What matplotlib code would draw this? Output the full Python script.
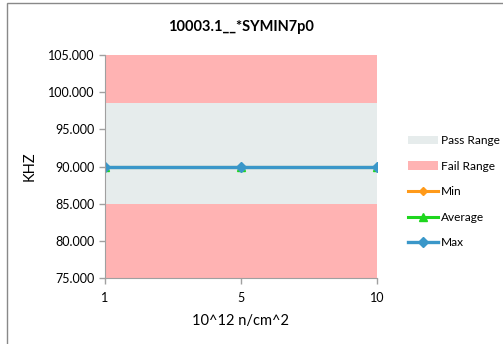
import matplotlib
matplotlib.use("Agg")
import matplotlib.pyplot as plt
from matplotlib.patches import Rectangle
import numpy as np

categories = ["1", "5", "10"]
fail_low = [85.0, 85.0, 85.0]
pass_top = [98.5, 98.5, 98.5]
axis_top = [105.0, 105.0, 105.0]
min_vals = [90.0, 90.0, 90.0]
avg_vals = [89.97, 89.97, 89.97]
max_vals = [90.0, 90.0, 90.0]
y_ticks = [75, 80, 85, 90, 95, 100, 105]

plt.rcParams['font.family'] = ['Lato', 'DejaVu Sans']

fig = plt.figure(figsize=(5.03, 3.44), dpi=100)
fig.patches.append(Rectangle((7/503, -0.1), 1.2, 1 - 3/344 + 0.1, transform=fig.transFigure,
                             fill=False, edgecolor='#898989', linewidth=1.0))
ax = fig.add_axes([105/503, 1 - 278/344, 272/503, 223/344])

x = np.arange(len(categories))
ymin = 75.0
ax.fill_between(x, ymin, fail_low, color='#FFB3B3', linewidth=0, label='_fail_low')
ax.fill_between(x, fail_low, pass_top, color='#E6ECEC', linewidth=0, label='Pass Range')
ax.fill_between(x, pass_top, axis_top, color='#FFB3B3', linewidth=0, label='Fail Range')

ax.plot(x, min_vals, color='#FF9A1A', linewidth=2.2, marker='D', markersize=4, label='Min')
ax.plot(x, avg_vals, color='#1ED61E', linewidth=2.2, marker='^', markersize=6, label='Average')
ax.plot(x, max_vals, color='#3A97C9', linewidth=2.4, marker='D', markersize=5, label='Max')

ax.set_xlim(0, 2)
ax.set_ylim(75, 105)
ax.set_xticks(x)
ax.set_xticklabels(categories)
ax.set_yticks(y_ticks)
ax.set_yticklabels([f"{v:.3f}" for v in y_ticks])
for s in ['top', 'right']:
    ax.spines[s].set_visible(False)
for s in ['left', 'bottom']:
    ax.spines[s].set_color('#A0A0A0')
ax.tick_params(axis='both', colors='#A0A0A0', labelcolor='#000000', labelsize=9, length=4, width=1)
ax.tick_params(axis='x', pad=6)

ax.set_title("10003.1__*SYMIN7p0", fontsize=10.5, fontweight='bold', pad=17)
ax.set_xlabel("10^12 n/cm^2", fontsize=10.5, labelpad=7)
ax.set_ylabel("KHZ", fontsize=10.5, labelpad=8)

handles, labels = ax.get_legend_handles_labels()
leg = fig.legend(handles, labels, loc='upper left', bbox_to_anchor=(408/503, 1 - 135/344),
                 frameon=False, fontsize=8.6, handlelength=2.5, labelspacing=1.22,
                 handletextpad=0.25, borderaxespad=0, borderpad=0)

fig.savefig("out.png", dpi=100)
